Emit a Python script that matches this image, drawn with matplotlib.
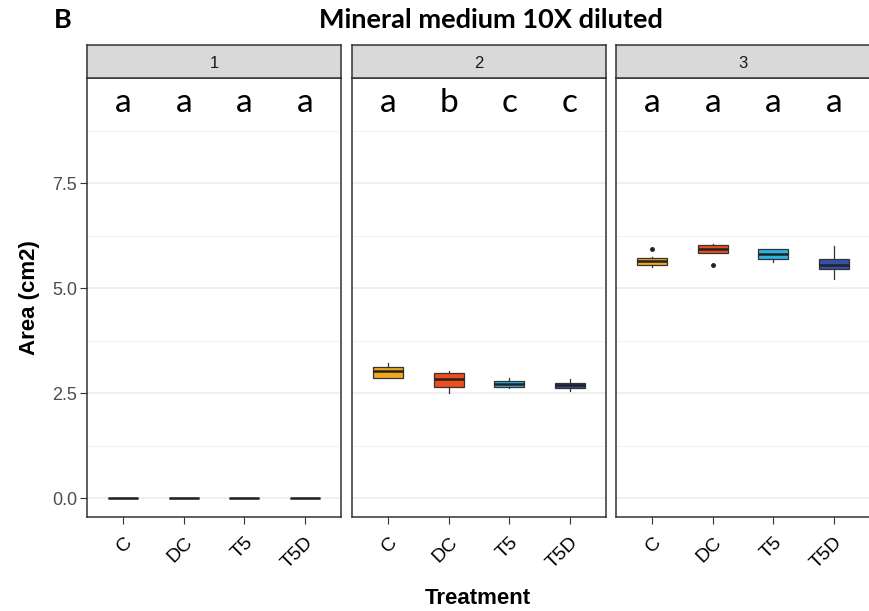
import matplotlib.pyplot as plt

treatments = ["C", "DC", "T5", "T5D"]
colors = ["#F2A81D", "#EE4E1B", "#2BB3E3", "#3550A8"]
panels = ["1", "2", "3"]
letters = [["a", "a", "a", "a"], ["a", "b", "c", "c"], ["a", "a", "a", "a"]]

# box stats per panel: whisker low, q1, median, q3, whisker high
whislo = [[0.0, 0.0, 0.0, 0.0],
          [2.87, 2.51, 2.61, 2.56],
          [5.49, 5.83, 5.63, 5.21]]
q1 = [[0.0, 0.0, 0.0, 0.0],
      [2.87, 2.65, 2.65, 2.61],
      [5.55, 5.83, 5.69, 5.45]]
med = [[0.0, 0.0, 0.0, 0.0],
       [3.03, 2.83, 2.71, 2.69],
       [5.64, 5.94, 5.80, 5.56]]
q3 = [[0.0, 0.0, 0.0, 0.0],
      [3.13, 2.97, 2.79, 2.75],
      [5.72, 6.02, 5.92, 5.68]]
whishi = [[0.0, 0.0, 0.0, 0.0],
          [3.21, 3.03, 2.85, 2.83],
          [5.74, 6.06, 5.92, 6.00]]
fliers = [[[], [], [], []],
          [[], [], [], []],
          [[5.94], [5.56], [], []]]

fig = plt.figure(figsize=(8.7, 6.11), dpi=100)

W, H = 870, 611
lefts = [87, 352, 616]
pw = 254
bottom, top = 517, 78
strip_h = 33

for i, name in enumerate(panels):
    ax = fig.add_axes([lefts[i] / W, 1 - bottom / H, pw / W, (bottom - top) / H])
    stats = []
    for j in range(4):
        stats.append(dict(med=med[i][j], q1=q1[i][j], q3=q3[i][j],
                          whislo=whislo[i][j], whishi=whishi[i][j],
                          fliers=fliers[i][j]))
    bp = ax.bxp(stats, positions=[1, 2, 3, 4], widths=0.5, patch_artist=True,
                showcaps=False,
                boxprops=dict(edgecolor="#333333", linewidth=0.9),
                medianprops=dict(color="#222222", linewidth=1.8),
                whiskerprops=dict(color="#333333", linewidth=0.9),
                flierprops=dict(marker="o", markersize=2.5, markerfacecolor="#222222",
                                markeredgecolor="#222222"))
    for patch, c in zip(bp["boxes"], colors):
        patch.set_facecolor(c)

    for j, lab in enumerate(letters[i]):
        ax.text(j + 1, 9.4, lab, ha="center", va="center", fontsize=24,
                family="Lato", color="black")

    ax.set_xlim(0.4, 4.6)
    ax.set_ylim(-0.45, 10.0)
    ax.set_yticks([0, 2.5, 5.0, 7.5])
    ax.set_yticks([1.25, 3.75, 6.25, 8.75], minor=True)
    ax.grid(True, which="major", axis="y", color="#EBEBEB", linewidth=1.1)
    ax.grid(True, which="minor", axis="y", color="#F2F2F2", linewidth=0.7)
    ax.set_axisbelow(True)
    ax.set_xticks([1, 2, 3, 4])
    ax.set_xticklabels(treatments, rotation=45, ha="right", va="top",
                       rotation_mode="anchor", fontsize=14, family="Liberation Sans")
    ax.tick_params(axis="x", length=5, color="#333333", pad=7)
    ax.tick_params(axis="y", which="minor", length=0)
    if i == 0:
        ax.set_yticklabels(["0.0", "2.5", "5.0", "7.5"], fontsize=13,
                           family="Liberation Sans", color="#4D4D4D")
        ax.tick_params(axis="y", length=5, color="#333333", pad=2)
    else:
        ax.tick_params(axis="y", length=0, labelleft=False)
    for s in ax.spines.values():
        s.set_color("#333333")
        s.set_linewidth(1.1)

    sax = fig.add_axes([lefts[i] / W, 1 - top / H, pw / W, strip_h / H])
    sax.set_facecolor("#D9D9D9")
    sax.set_xticks([])
    sax.set_yticks([])
    for s in sax.spines.values():
        s.set_color("#333333")
        s.set_linewidth(1.1)
    sax.text(0.5, 0.45, name, ha="center", va="center", fontsize=12,
             family="Liberation Sans", color="#1A1A1A", transform=sax.transAxes)

fig.text(491 / W, 1 - 20 / H, "Mineral medium 10X diluted", ha="center", va="center",
         fontsize=19.5, fontweight="bold", family="Lato")
fig.text(63 / W, 1 - 20 / H, "B", ha="center", va="center",
         fontsize=19.5, fontweight="bold", family="Lato")
fig.text(30 / W, 1 - 298 / H, "Area (cm2)", ha="center", va="center", rotation=90,
         fontsize=16, fontweight="bold", family="Liberation Sans")
fig.text(478 / W, 1 - 598 / H, "Treatment", ha="center", va="center",
         fontsize=16, fontweight="bold", family="Liberation Sans")

fig.savefig("out.png", dpi=100)
